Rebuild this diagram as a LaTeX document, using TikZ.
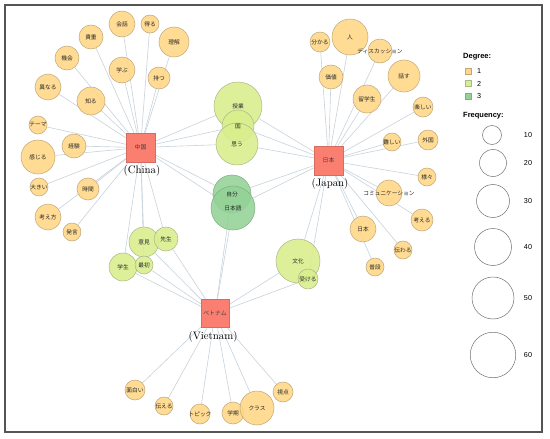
\documentclass[tikz,border=0pt]{standalone}
\usepackage{fontspec}
\newfontfamily\jp{Noto Sans CJK JP}
\newfontfamily\lsans{Liberation Sans}
\usetikzlibrary{backgrounds}
\pgfdeclarelayer{foreground}
\pgfsetlayers{background,main,foreground}
\definecolor{dgA}{HTML}{FFD785}
\definecolor{dgB}{HTML}{D9EE8C}
\definecolor{dgC}{HTML}{93D296}
\definecolor{boxc}{HTML}{FA7F70}
\definecolor{edgec}{HTML}{C8D3DB}
\definecolor{outlA}{HTML}{BFA77A}
\definecolor{outlB}{HTML}{A9B88A}
\definecolor{outlC}{HTML}{7FAF82}
\definecolor{frame}{HTML}{555555}
\tikzset{
  word/.style={circle,inner sep=0pt,line width=0.5pt,fill opacity=0.88},
  degA/.style={word,fill=dgA,draw=outlA},
  degB/.style={word,fill=dgB,draw=outlB},
  degC/.style={word,fill=dgC,draw=outlC},
  wtext/.style={inner sep=0pt,text=black!85,font=\jp\fontsize{5.7}{6}\selectfont},
  country/.style={rectangle,fill=boxc,draw=boxc!85!black,line width=0.4pt,inner sep=0pt,
    minimum size=29pt,text=black!75,font=\jp\fontsize{5.9}{6}\selectfont},
  cname/.style={inner sep=0pt,font=\fontsize{10.8}{12}\selectfont},
  edge/.style={draw=edgec,line width=0.6pt},
  legtitle/.style={anchor=west,inner sep=0pt,font=\lsans\bfseries\fontsize{7.5}{8}\selectfont},
  legtext/.style={inner sep=0pt,font=\lsans\fontsize{7.2}{8}\selectfont},
  swatch/.style={rectangle,inner sep=0pt,minimum size=6pt,line width=0.4pt},
  fcirc/.style={circle,inner sep=0pt,draw=black!55,line width=0.5pt}
}
\newcommand{\wn}[6]{\node[#5,minimum size={2*#4}] (#1) at (#2,#3) {};
  \begin{pgfonlayer}{foreground}\node[wtext] (#1t) at (#2,#3) {#6};\end{pgfonlayer}}
\begin{document}
\begin{tikzpicture}[x=1pt,y=-1pt]
\useasboundingbox (0,0) rectangle (550,439);
% country boxes
\node[country] (cn) at (140.5,147.5) {中国};
\node[country] (ja) at (328.5,160.5) {日本};
\node[country,minimum size=28pt] (vn) at (215,313.5) {ベトナム};
\node[cname] (cnl) at (142,171) {(China)};
\node[cname] (jal) at (330,184) {(Japan)};
\node[cname] (vnl) at (213,337) {(Vietnam)};
% China words
\wn{kaiwa}{122}{24}{13}{degA}{会話}
\wn{eru}{150}{24}{9}{degA}{得る}
\wn{kichou}{91}{37}{12}{degA}{貴重}
\wn{rikai}{174}{42}{15}{degA}{理解}
\wn{kikai}{67}{58}{12}{degA}{機会}
\wn{manabu}{122}{70}{13}{degA}{学ぶ}
\wn{motsu}{159}{78}{11}{degA}{持つ}
\wn{kotonaru}{48}{87}{13}{degA}{異なる}
\wn{shiru}{91}{101}{14}{degA}{知る}
\wn{teema}{38}{125}{9}{degA}{テーマ}
\wn{keiken}{74}{146}{12}{degA}{経験}
\wn{kanjiru}{38}{157}{17}{degA}{感じる}
\wn{ookii}{39}{187}{9}{degA}{大きい}
\wn{jikan}{88}{189}{11}{degA}{時間}
\wn{kangaekata}{48}{217}{13}{degA}{考え方}
\wn{hatsugen}{72}{232}{9}{degA}{発言}
% Japan words
\wn{wakaru}{320}{42}{10}{degA}{分かる}
\wn{hito}{350}{37}{18}{degA}{人}
\wn{disc}{380}{51}{12}{degA}{ディスカッション}
\wn{kachi}{331}{77}{12}{degA}{価値}
\wn{hanasu}{404}{76}{16}{degA}{話す}
\wn{ryuu}{367}{99}{14}{degA}{留学生}
\wn{tanoshii}{423}{107}{10}{degA}{楽しい}
\wn{muzu}{392}{142}{9}{degA}{難しい}
\wn{gaikoku}{428}{140}{10}{degA}{外国}
\wn{samazama}{427}{177}{9}{degA}{様々}
\wn{comm}{389}{193}{13}{degA}{コミュニケーション}
\wn{kangaeru}{422}{220}{11}{degA}{考える}
\wn{nihon}{363}{229}{13}{degA}{日本}
\wn{tsutawaru}{403}{250}{9}{degA}{伝わる}
\wn{fudan}{375}{267}{9}{degA}{普段}
% Vietnam words
\wn{omoshiroi}{135}{390}{10}{degA}{面白い}
\wn{tsutaeru}{164}{406}{9}{degA}{伝える}
\wn{topic}{200}{414}{10}{degA}{トピック}
\wn{gakki}{233}{413}{11}{degA}{学期}
\wn{klass}{257}{408}{17}{degA}{クラス}
\wn{shiten}{283}{392}{10}{degA}{視点}
% degree 2
\wn{jugyou}{238}{106}{24}{degB}{授業}
\wn{kuni}{238}{126}{16}{degB}{国}
\wn{omou}{237}{144}{21}{degB}{思う}
\wn{iken}{144}{242}{15}{degB}{意見}
\wn{sensei}{166}{239}{12}{degB}{先生}
\wn{gakusei}{123}{267}{14}{degB}{学生}
\wn{saisho}{144}{265}{9}{degB}{最初}
\wn{bunka}{298}{261}{22}{degB}{文化}
\wn{ukeru}{308}{279}{10}{degB}{受ける}
% degree 3
\wn{jibun}{232}{194}{19}{degC}{自分}
\wn{nihongo}{233}{208}{22}{degC}{日本語}
% background and edges
\begin{pgfonlayer}{background}
\fill[white] (0,0) rectangle (550,439);
\draw[frame,line width=1.3pt] (5,5) rectangle (542,432);
\foreach \w in {kaiwa,eru,kichou,rikai,kikai,manabu,motsu,kotonaru,shiru,teema,keiken,kanjiru,ookii,jikan,kangaekata,hatsugen,jugyou,kuni,omou,iken,sensei,gakusei,saisho,jibun,nihongo}
  \draw[edge] (cn) -- (\w);
\foreach \w in {wakaru,hito,disc,kachi,hanasu,ryuu,tanoshii,muzu,gaikoku,samazama,comm,kangaeru,nihon,tsutawaru,fudan,jugyou,kuni,omou,bunka,ukeru,jibun,nihongo}
  \draw[edge] (ja) -- (\w);
\foreach \w in {omoshiroi,tsutaeru,topic,gakki,klass,shiten,iken,sensei,gakusei,saisho,bunka,ukeru,jibun,nihongo}
  \draw[edge] (vn) -- (\w);
\end{pgfonlayer}
% legend
\node[legtitle] (degt) at (463,57) {Degree:};
\node[swatch,fill=dgA,draw=outlA] (s1) at (468,71) {};
\node[swatch,fill=dgB,draw=outlB] (s2) at (468,83.5) {};
\node[swatch,fill=dgC,draw=outlC] (s3) at (468,96) {};
\node[legtext,anchor=west] (s1t) at (477,71) {1};
\node[legtext,anchor=west] (s2t) at (477,83.5) {2};
\node[legtext,anchor=west] (s3t) at (477,96) {3};
\node[legtitle] (freqt) at (463,116) {Frequency:};
\node[fcirc,minimum size=19pt] (f10) at (492,135) {};
\node[fcirc,minimum size=27pt] (f20) at (493,163) {};
\node[fcirc,minimum size=33pt] (f30) at (493,201) {};
\node[fcirc,minimum size=37pt] (f40) at (493,247) {};
\node[fcirc,minimum size=42pt] (f50) at (493,298) {};
\node[fcirc,minimum size=45.5pt] (f60) at (493,355) {};
\node[legtext] (f10t) at (528,135) {10};
\node[legtext] (f20t) at (528,163) {20};
\node[legtext] (f30t) at (528,201) {30};
\node[legtext] (f40t) at (528,247) {40};
\node[legtext] (f50t) at (528,298) {50};
\node[legtext] (f60t) at (528,355) {60};
\end{tikzpicture}
\end{document}
